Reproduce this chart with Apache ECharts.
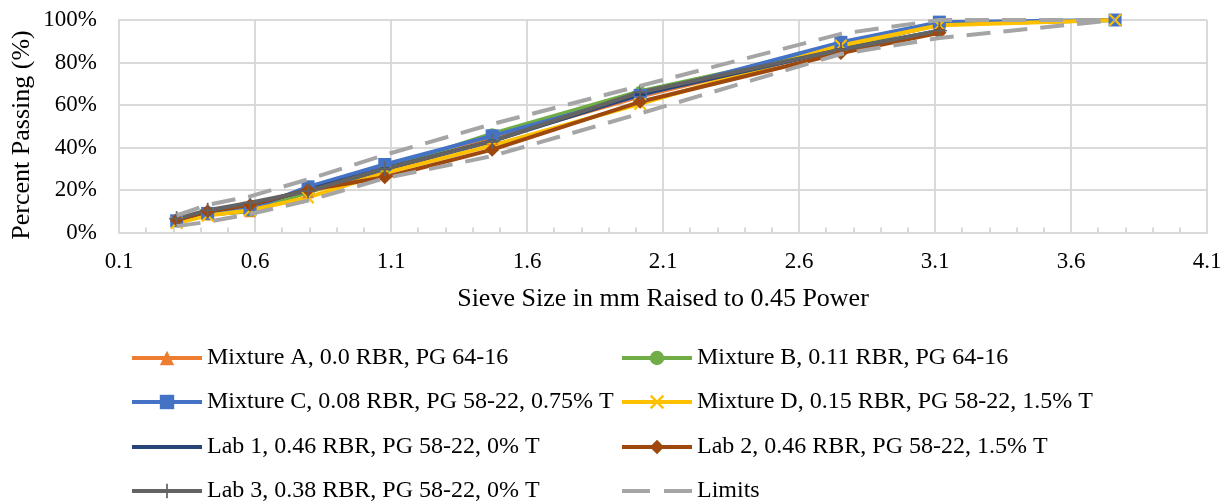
<!DOCTYPE html>
<html>
<head>
<meta charset="utf-8">
<script src="https://cdn.jsdelivr.net/npm/echarts@6/dist/echarts.min.js"></script>
<style>html,body{margin:0;padding:0;background:#fff;}#c{width:1230px;height:504px;}</style>
</head>
<body>
<div id="c"></div>
<script>
// Sieve size (mm) raised to 0.45 power: 0.075,0.15,0.3,0.6,1.18,2.36,4.75,9.5,12.5,19
const sieveX = [0.312, 0.426, 0.582, 0.795, 1.077, 1.472, 2.016, 2.754, 3.116, 3.762];
const mixA = [5.5, 8.5, 10, 19, 29, 44, 64, 87, 98, 100];
const mixB = [5.5, 8.5, 10, 19, 30, 46.5, 66.5, 87, 98, 100];
const mixC = [5.5, 9, 11, 21.5, 32, 45.5, 64.5, 89.5, 99, 100];
const mixD = [4.5, 8, 10.5, 16.5, 28, 41, 60.5, 88, 97.5, 100];
const lab1 = [6, 10, 13, 20, 30, 43, 65, 86, 95];
const lab2 = [6, 10, 13, 20, 26, 39, 61.5, 84.5, 94];
const lab3 = [6.5, 10.5, 14, 19.5, 30, 43, 66, 86, 95];
const limUpper = [8, 13, 17, 25, 36.5, 51, 69, 93.5, 100, 100];
const limLower = [3, 5, 8.7, 15, 25.5, 36, 56, 84, 91.5, 100];
const yTicks = [0, 20, 40, 60, 80, 100];

const names = [
  'Mixture A, 0.0 RBR, PG 64-16',
  'Mixture B, 0.11 RBR, PG 64-16',
  'Mixture C, 0.08 RBR, PG 58-22, 0.75% T',
  'Mixture D, 0.15 RBR, PG 58-22, 1.5% T',
  'Lab 1, 0.46 RBR, PG 58-22, 0% T',
  'Lab 2, 0.46 RBR, PG 58-22, 1.5% T',
  'Lab 3, 0.38 RBR, PG 58-22, 0% T',
  'Limits'
];
const yTitle = 'Percent Passing (%)';

function pairs(vals) { return vals.map((v, i) => [sieveX[i], v]); }

const X_PATH = 'path://M0,1.2 L1.2,0 L5,3.8 L8.8,0 L10,1.2 L6.2,5 L10,8.8 L8.8,10 L5,6.2 L1.2,10 L0,8.8 L3.8,5 Z';
const PLUS_PATH = 'path://M4.4,0 H5.6 V4.4 H10 V5.6 H5.6 V10 H4.4 V5.6 H0 V4.4 H4.4 Z';
const DASH_PATH = 'path://M0,0 M10,10 M0,3.6 H10 V6.4 H0 Z';

function ser(name, vals, color, symbol, size) {
  return {
    name: name, type: 'line', data: pairs(vals),
    symbol: symbol, symbolSize: size, showSymbol: true,
    lineStyle: { color: color, width: 4 },
    itemStyle: { color: color },
    z: 2, animation: false
  };
}

const FONT = 'Liberation Serif, Times New Roman, serif';

const series = [
  ser(names[0], mixA, '#ED7D31', 'triangle', 12),
  ser(names[1], mixB, '#70AD47', 'circle', 11),
  ser(names[2], mixC, '#4472C4', 'rect', 13),
  ser(names[3], mixD, '#FFC000', X_PATH, 13),
  ser(names[4], lab1, '#264478', DASH_PATH, 11),
  ser(names[5], lab2, '#9E480E', 'diamond', 14),
  ser(names[6], lab3, '#636363', PLUS_PATH, 15),
  {
    name: names[7], type: 'line', data: pairs(limUpper), symbol: 'none',
    lineStyle: { color: '#A5A5A5', width: 4, type: [24, 13] },
    itemStyle: { color: '#A5A5A5' }, z: 3, animation: false
  },
  {
    name: names[7], type: 'line', data: pairs(limLower), symbol: 'none',
    lineStyle: { color: '#A5A5A5', width: 4, type: [24, 13] },
    itemStyle: { color: '#A5A5A5' }, z: 3, animation: false
  }
];

const rowCenters = [358, 402, 447, 491];
const legendOrder = [[0, 1], [2, 3], [4, 5], [6, 7]];
const colLefts = [130, 620];
const legends = [];
legendOrder.forEach((row, r) => {
  row.forEach((idx, c) => {
    const item = idx === 7
      ? { name: names[idx], itemStyle: { color: 'rgba(0,0,0,0)', borderWidth: 0, opacity: 0 },
          lineStyle: { width: 4, type: [28, 14] } }
      : { name: names[idx] };
    legends.push({
      orient: 'horizontal', left: colLefts[c], top: rowCenters[r] - 12, padding: 0,
      itemWidth: 70, itemHeight: 18,
      textStyle: { fontFamily: FONT, fontSize: 24, color: '#000', lineHeight: 24 },
      lineStyle: { width: 4 },
      selectedMode: false,
      data: [item]
    });
  });
});

const chart = echarts.init(document.getElementById('c'), null, { renderer: 'canvas' });
chart.setOption({
  backgroundColor: '#fff',
  animation: false,
  grid: { left: 119, right: 23, top: 20, bottom: 271.5, containLabel: false },
  xAxis: {
    type: 'value', min: 0.1, max: 4.1, interval: 0.5,
    name: 'Sieve Size in mm Raised to 0.45 Power', nameLocation: 'middle', nameGap: 54,
    nameTextStyle: { fontFamily: FONT, fontSize: 26, color: '#000' },
    axisLine: { show: true, lineStyle: { color: '#D9D9D9', width: 2 } },
    axisTick: { show: true, inside: true, length: 5, lineStyle: { color: '#D9D9D9', width: 2 } },
    minorTick: { show: true, splitNumber: 5, length: 5, lineStyle: { color: '#D9D9D9', width: 2 } },
    splitLine: { show: true, lineStyle: { color: '#D9D9D9', width: 2 } },
    axisLabel: { fontFamily: FONT, fontSize: 23, color: '#000', margin: 18,
      formatter: v => v.toFixed(1) }
  },
  yAxis: {
    type: 'value', min: yTicks[0], max: yTicks[yTicks.length - 1], interval: 20,
    axisLine: { show: true, lineStyle: { color: '#D9D9D9', width: 2 } },
    axisTick: { show: false },
    splitLine: { show: true, lineStyle: { color: '#D9D9D9', width: 2 } },
    axisLabel: { fontFamily: FONT, fontSize: 23, color: '#000', margin: 22,
      formatter: v => v + '%' }
  },
  graphic: [{
    type: 'text', x: 22, y: 135, rotation: Math.PI / 2,
    style: { text: yTitle, fontFamily: FONT, fontSize: 26, fill: '#000',
      align: 'center', verticalAlign: 'middle' }
  }],
  legend: legends,
  series: series
});
</script>
</body>
</html>
